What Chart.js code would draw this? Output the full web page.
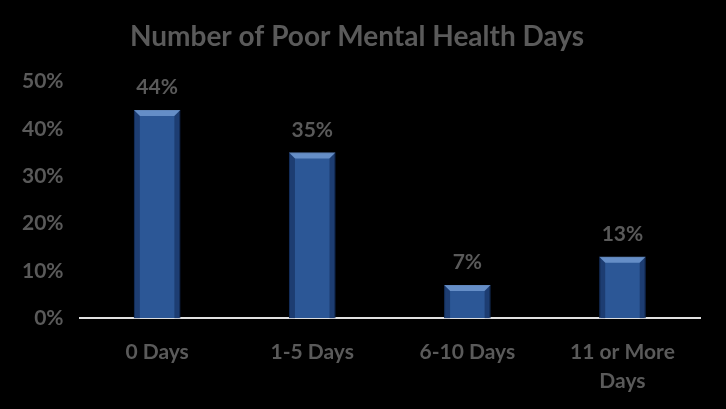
<!DOCTYPE html>
<html>
<head>
<meta charset="utf-8">
<script src="https://cdn.jsdelivr.net/npm/chart.js@4/dist/chart.umd.min.js"></script>
<style>
  html, body { margin: 0; padding: 0; background: #000; }
  #wrap { width: 726px; height: 409px; }
</style>
</head>
<body>
<div id="wrap"><canvas id="myChart"></canvas></div>
<script>
const categories = ["0 Days", "1-5 Days", "6-10 Days", ["11 or More", "Days"]];
const percentValues = [44, 35, 7, 13];
const yTicks = [0, 10, 20, 30, 40, 50];

const textGray = "#5a5a5a";
const fontFamily = "Lato, 'Open Sans', sans-serif";

// value labels above the bars
const valueLabels = {
  id: "valueLabels",
  afterDatasetsDraw(chart) {
    const ctx = chart.ctx;
    const meta = chart.getDatasetMeta(0);
    ctx.save();
    ctx.fillStyle = textGray;
    ctx.font = "bold 21px " + fontFamily;
    ctx.textAlign = "center";
    ctx.textBaseline = "alphabetic";
    meta.data.forEach((bar, i) => {
      ctx.fillText(percentValues[i] + "%", bar.x, bar.y - 16);
    });
    ctx.restore();
  }
};

// simple bevel look on the bars
const bevel = {
  id: "bevel",
  afterDatasetDraw(chart) {
    const ctx = chart.ctx;
    const meta = chart.getDatasetMeta(0);
    ctx.save();
    meta.data.forEach((bar) => {
      const l = bar.x - bar.width / 2, r = bar.x + bar.width / 2;
      const t = bar.y, b = bar.base;
      const d = 6;
      // top highlight
      ctx.fillStyle = "rgba(120,160,215,0.75)";
      ctx.beginPath();
      ctx.moveTo(l, t); ctx.lineTo(r, t); ctx.lineTo(r - d, t + d); ctx.lineTo(l + d, t + d);
      ctx.closePath(); ctx.fill();
      // side shading
      ctx.fillStyle = "rgba(10,30,70,0.45)";
      ctx.beginPath();
      ctx.moveTo(l, t); ctx.lineTo(l + d, t + d); ctx.lineTo(l + d, b); ctx.lineTo(l, b);
      ctx.closePath(); ctx.fill();
      ctx.beginPath();
      ctx.moveTo(r, t); ctx.lineTo(r - d, t + d); ctx.lineTo(r - d, b); ctx.lineTo(r, b);
      ctx.closePath(); ctx.fill();
    });
    ctx.restore();
  }
};

new Chart(document.getElementById("myChart").getContext("2d"), {
  type: "bar",
  data: {
    labels: categories,
    datasets: [{
      data: percentValues,
      backgroundColor: "#2c5796",
      borderColor: "#1b3a6a",
      borderWidth: 1,
      barPercentage: 0.6,
      categoryPercentage: 0.5
    }]
  },
  options: {
    responsive: true,
    maintainAspectRatio: false,
    animation: false,
    layout: { padding: { left: 14, right: 26, top: 0, bottom: 2 } },
    plugins: {
      legend: { display: false },
      tooltip: { enabled: false },
      title: {
        display: true,
        text: "Number of Poor Mental Health Days",
        color: textGray,
        font: { family: fontFamily, size: 28, weight: "bold" },
        padding: { top: 20, bottom: 28 }
      }
    },
    scales: {
      x: {
        grid: { display: false },
        border: { color: "#e0e0e0", width: 2 },
        ticks: {
          color: textGray,
          font: { family: fontFamily, size: 21, weight: "bold", lineHeight: 1.4 },
          padding: 11,
          maxRotation: 0
        }
      },
      y: {
        min: 0,
        max: 50,
        afterBuildTicks(axis) { axis.ticks = yTicks.map(v => ({ value: v })); },
        grid: { display: false },
        border: { display: false },
        ticks: {
          color: textGray,
          font: { family: fontFamily, size: 21, weight: "bold" },
          padding: 8,
          callback: v => v + "%"
        }
      }
    }
  },
  plugins: [bevel, valueLabels]
});
</script>
</body>
</html>
